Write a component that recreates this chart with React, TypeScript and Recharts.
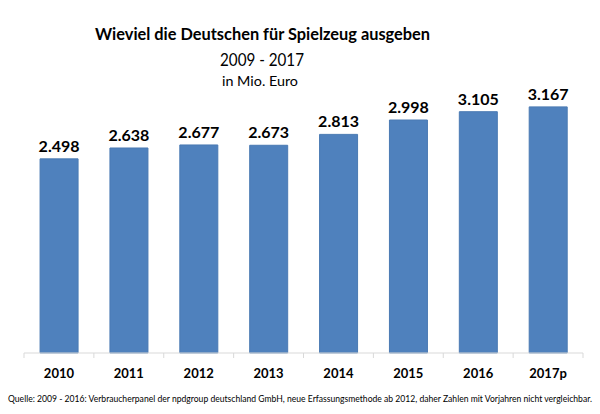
import { BarChart, Bar, XAxis, YAxis, LabelList } from 'recharts';

const years = ['2010', '2011', '2012', '2013', '2014', '2015', '2016', '2017p'];
const ausgaben = [2498, 2638, 2677, 2673, 2813, 2998, 3105, 3167];

const data = years.map((year, i) => ({ year, value: ausgaben[i] }));

const FONT = 'Lato, "Open Sans", sans-serif';
const BAND = (583 - 24) / years.length;

const formatDe = (v: number) => (v / 1000).toFixed(3);

function YearTick(props: any) {
  const { x, y, payload, index } = props;
  const left = x - BAND / 2;
  return (
    <g>
      <line x1={left} y1={y - 8} x2={left} y2={y - 3} stroke="#d9d9d9" />
      {index === years.length - 1 && (
        <line x1={left + BAND} y1={y - 8} x2={left + BAND} y2={y - 3} stroke="#d9d9d9" />
      )}
      <text x={x} y={y + 17} textAnchor="middle" fontFamily={FONT} fontWeight={700} fontSize={13} fill="#000">
        {payload.value}
      </text>
    </g>
  );
}

export default function App() {
  return (
    <div style={{ position: 'absolute', left: 0, top: 0, width: 600, height: 414, background: '#fff' }}>
      <BarChart
        width={600}
        height={414}
        data={data}
        margin={{ top: 81, right: 17, bottom: 31, left: 24 }}
        barCategoryGap="23%"
      >
        <XAxis
          dataKey="year"
          axisLine={{ stroke: '#d9d9d9' }}
          tickLine={false}
          tick={<YearTick />}
          height={30}
          interval={0}
        />
        <YAxis hide domain={[0, 3500]} />
        <Bar dataKey="value" fill="#4f81bd" stroke="#4a7ab3" isAnimationActive={false}>
          <LabelList
            dataKey="value"
            position="top"
            offset={7}
            formatter={(v: any) => formatDe(Number(v))}
            style={{ fontFamily: FONT, fontWeight: 700, fontSize: 16, fill: '#000' }}
          />
        </Bar>
      </BarChart>
      <svg width={600} height={414} style={{ position: 'absolute', left: 0, top: 0, pointerEvents: 'none' }} fontFamily={FONT}>
        <text x={262.5} y={40} textAnchor="middle" fontSize={17} fontWeight={700} textLength={335} lengthAdjust="spacingAndGlyphs">
          Wieviel die Deutschen für Spielzeug ausgeben
        </text>
        <text x={262} y={66} textAnchor="middle" fontSize={16.5} textLength={84} lengthAdjust="spacingAndGlyphs">
          2009 - 2017
        </text>
        <text x={260} y={86} textAnchor="middle" fontSize={12.5} textLength={76} lengthAdjust="spacingAndGlyphs">
          in Mio. Euro
        </text>
        <text x={300} y={402} textAnchor="middle" fontSize={8.5} textLength={584} lengthAdjust="spacingAndGlyphs">
          Quelle: 2009 - 2016: Verbraucherpanel der npdgroup deutschland GmbH, neue Erfassungsmethode ab 2012, daher Zahlen mit Vorjahren nicht vergleichbar.
        </text>
      </svg>
    </div>
  );
}
